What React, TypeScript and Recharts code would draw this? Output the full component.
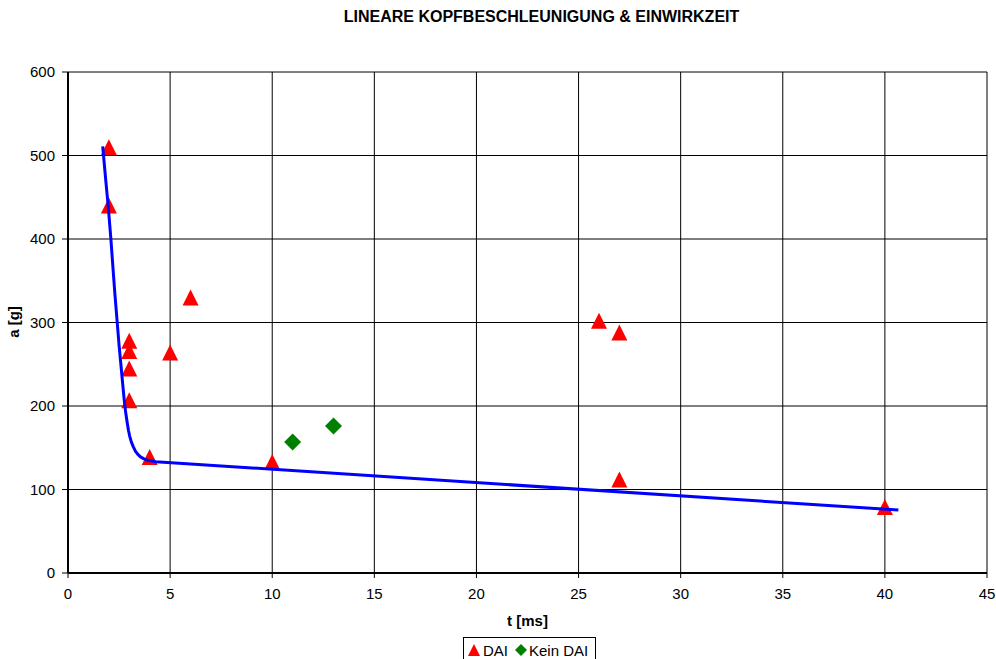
import React from 'react'
import {
  ScatterChart,
  Scatter,
  XAxis,
  YAxis,
  CartesianGrid,
  Label,
} from 'recharts'

// measurements: impact duration t [ms] and linear head acceleration a [g]
const daiT = [2, 2, 3, 3, 3, 3, 4, 5, 6, 10, 26, 27, 27, 40]
const daiA = [510, 440, 278, 266, 245, 207, 139, 264, 330, 133, 302, 288, 112, 79]

const keinDaiT = [11, 13]
const keinDaiA = [157, 176]

// tolerance curve (steep branch, bend, then straight tail)
const curveT = [1.7, 1.85, 1.97, 2.1, 2.2, 2.3, 2.41, 2.5, 2.6, 2.68, 2.75, 2.82, 2.9, 2.96, 3.02, 3.1, 3.2, 3.3, 3.42, 3.55, 3.7, 3.9, 4.3, 40.66]
const curveA = [511, 470, 439, 400, 366, 333, 300, 273, 247, 226, 208, 193, 180, 171, 164, 157, 151, 146, 142, 139, 137, 135, 133.3, 75.4]

const xTicks = [0, 5, 10, 15, 20, 25, 30, 35, 40, 45]
const yTicks = [0, 100, 200, 300, 400, 500, 600]

const FONT = '"Liberation Sans", Arial, sans-serif'

const toPoints = (ts: number[], as: number[]) => ts.map((t, i) => ({ t, a: as[i] }))

const dai = toPoints(daiT, daiA)
const keinDai = toPoints(keinDaiT, keinDaiA)
const curve = toPoints(curveT, curveA)

const Triangle = (props: any) => {
  const { cx, cy } = props
  return (
    <polygon
      points={`${cx},${cy - 8} ${cx + 8},${cy + 8} ${cx - 8},${cy + 8}`}
      fill="#ff0000"
    />
  )
}

const Diamond = (props: any) => {
  const { cx, cy } = props
  return (
    <polygon
      points={`${cx},${cy - 8.5} ${cx + 8.5},${cy} ${cx},${cy + 8.5} ${cx - 8.5},${cy}`}
      fill="#008000"
    />
  )
}

const NoDot = () => <g />

const tickStyle = { fill: '#000', fontSize: 15, fontFamily: FONT }

export default function App() {
  return (
    <div style={{ position: 'absolute', left: 0, top: 0, width: 996, height: 659, background: '#fff', fontFamily: FONT }}>
      <div
        style={{
          position: 'absolute',
          top: 8,
          left: 0,
          width: 1083,
          textAlign: 'center',
          fontSize: 16,
          fontWeight: 'bold',
          color: '#000',
        }}
      >
        LINEARE KOPFBESCHLEUNIGUNG &amp; EINWIRKZEIT
      </div>
      <ScatterChart width={996} height={659} margin={{ top: 72, right: 9, bottom: 0, left: 0 }}>
        <CartesianGrid stroke="#000" strokeWidth={1} />
        <XAxis
          type="number"
          dataKey="t"
          domain={[0, 45]}
          ticks={xTicks}
          interval={0}
          tick={tickStyle}
          tickSize={5}
          tickMargin={10}
          axisLine={{ stroke: '#000', strokeWidth: 2 }}
          tickLine={{ stroke: '#000' }}
          height={86}
        >
          <Label
            content={({ viewBox }: any) => (
              <text
                x={viewBox.x + viewBox.width / 2}
                y={626}
                textAnchor="middle"
                fontSize={15}
                fontWeight="bold"
                fontFamily={FONT}
                fill="#000"
              >
                t [ms]
              </text>
            )}
          />
        </XAxis>
        <YAxis
          type="number"
          dataKey="a"
          domain={[0, 600]}
          ticks={yTicks}
          interval={0}
          tick={tickStyle}
          tickSize={6}
          tickMargin={7}
          axisLine={{ stroke: '#000', strokeWidth: 2 }}
          tickLine={{ stroke: '#000' }}
          width={68}
        >
          <Label
            content={() => (
              <text
                x={19}
                y={322}
                transform="rotate(-90 19 322)"
                textAnchor="middle"
                fontSize={15}
                fontWeight="bold"
                fontFamily={FONT}
                fill="#000"
              >
                a [g]
              </text>
            )}
          />
        </YAxis>
        <Scatter name="DAI" data={dai} shape={Triangle} isAnimationActive={false} />
        <Scatter name="Kein DAI" data={keinDai} shape={Diamond} isAnimationActive={false} />
        <Scatter
          data={curve}
          shape={NoDot}
          line={{ stroke: '#0000ff', strokeWidth: 3, strokeLinejoin: 'round' }}
          lineJointType="linear"
          isAnimationActive={false}
        />
      </ScatterChart>
      <div
        style={{
          position: 'absolute',
          left: 463,
          top: 637,
          width: 133,
          height: 26,
          boxSizing: 'border-box',
          border: '1px solid #000',
          display: 'flex',
          alignItems: 'center',
          paddingLeft: 4,
          fontSize: 15,
          color: '#000',
          whiteSpace: 'nowrap',
        }}
      >
        <svg width={12} height={12} style={{ marginRight: 3 }}>
          <polygon points="6,0 12,12 0,12" fill="#ff0000" />
        </svg>
        <span>DAI</span>
        <svg width={12} height={12} style={{ marginLeft: 7, marginRight: 2 }}>
          <polygon points="6,0 12,6 6,12 0,6" fill="#008000" />
        </svg>
        <span>Kein DAI</span>
      </div>
    </div>
  )
}
